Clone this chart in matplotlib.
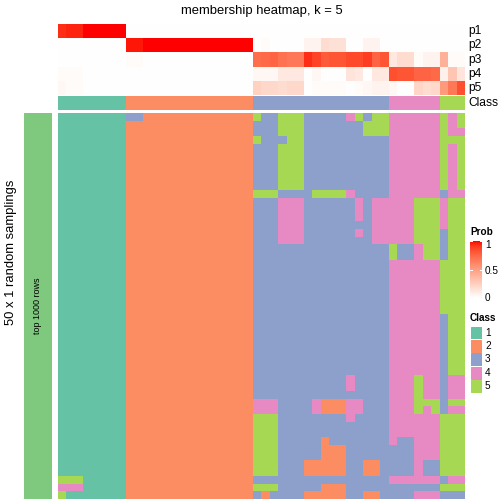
import numpy as np
import matplotlib
matplotlib.use("Agg")
import matplotlib.pyplot as plt
from matplotlib.colors import ListedColormap

plt.rcParams["font.family"] = ["Liberation Sans", "DejaVu Sans"]

W = H = 504

# -- Data ----------------------------------------------------------------------
TITLE = "membership heatmap, k = 5"
CLASS_LABELS = ["1", "2", "3", "4", "5"]
CLASS_COLORS = ["#66C2A5", "#FC8D62", "#8DA0CB", "#E78AC3", "#A6D854"]
PROB_LABELS = ["p1", "p2", "p3", "p4", "p5"]
PROB_TICKS = [0, 0.5, 1]

# consensus class of each of the 48 samples (columns)
consensus = [1] * 8 + [2] * 15 + [3] * 16 + [4] * 6 + [5] * 3

# class assigned in each of the 50 random samplings (rows)
# segments: class-1 block (8) | class-2 block (15) | class-3 (16) | class-4 (6) | class-5 (3)
G1 = "11111111"
G2 = "222222222222222"
samplings = [
    G1 + "332222222222222" + "5335553333345355" + "444444" + "545",
    G1 + G2 + "3335553333333555" + "444444" + "545",
    G1 + G2 + "3335553333333555" + "444444" + "544",
    G1 + G2 + "5333553333333333" + "444444" + "555",
    G1 + G2 + "3335553333333333" + "444444" + "545",
    G1 + G2 + "3335553333333333" + "444444" + "545",
    G1 + G2 + "3335553333333333" + "444444" + "545",
    G1 + G2 + "3335553333333333" + "444444" + "545",
    G1 + G2 + "3335553333333333" + "444444" + "545",
    G1 + G2 + "3335553333333333" + "444444" + "545",
    G1 + G2 + "5553333555543333" + "444444" + "344",
    G1 + G2 + "3334443333334344" + "444555" + "455",
    G1 + G2 + "3334443333334344" + "444555" + "455",
    G1 + G2 + "3334443333334344" + "444555" + "455",
    G1 + G2 + "3334443333333344" + "444555" + "455",
    G1 + G2 + "3334443333334344" + "444555" + "355",
    G1 + G2 + "3334443333333344" + "444555" + "355",
    G1 + G2 + "3333333333333333" + "533455" + "355",
    G1 + G2 + "3333333333333333" + "533455" + "355",
    G1 + G2 + "3333333333333333" + "444444" + "555",
    G1 + G2 + "3333333333333333" + "444444" + "555",
    G1 + G2 + "3333333333333333" + "444444" + "555",
    G1 + G2 + "3333333333333333" + "444444" + "555",
    G1 + G2 + "3333333333333333" + "444444" + "555",
    G1 + G2 + "3333333333333333" + "444444" + "555",
    G1 + G2 + "3333333333333333" + "444444" + "555",
    G1 + G2 + "3333333333333333" + "444444" + "355",
    G1 + G2 + "3333333333333333" + "444444" + "355",
    G1 + G2 + "3333333333333333" + "444444" + "355",
    G1 + G2 + "3333333333333333" + "444444" + "355",
    G1 + G2 + "3333333333333333" + "444444" + "355",
    G1 + G2 + "3333333333333333" + "444444" + "355",
    G1 + G2 + "3333333333333333" + "444444" + "355",
    G1 + G2 + "3333333333333333" + "444444" + "355",
    G1 + G2 + "3333333333343333" + "444544" + "344",
    G1 + G2 + "3333333333343333" + "444544" + "344",
    G1 + G2 + "3333333333333333" + "444544" + "344",
    G1 + G2 + "4443333422244333" + "444555" + "355",
    G1 + G2 + "4443333422244333" + "444545" + "344",
    G1 + G2 + "5553333333343333" + "444444" + "555",
    G1 + G2 + "5553333333333333" + "444444" + "555",
    G1 + G2 + "5553333333333333" + "444444" + "555",
    G1 + G2 + "5553333323333333" + "433444" + "555",
    G1 + G2 + "5553333322233333" + "333444" + "555",
    G1 + G2 + "5553333322233333" + "333444" + "555",
    G1 + G2 + "5553332222233223" + "333433" + "555",
    G1 + G2 + "5553332222233223" + "333433" + "555",
    "55511111" + G2 + "3333333333333333" + "444444" + "344",
    "44411111" + G2 + "5553333322233333" + "333333" + "555",
    "51111111" + G2 + "3233332222233223" + "333444" + "333",
]

mat = np.array([[int(c) for c in row] for row in samplings])
# membership = share of samplings that put each sample in class k
membership = np.array([(mat == k).mean(axis=0) for k in range(1, 6)])


# -- white -> red ramp interpolated in Lab (as colorRamp2 does) -----------------
M = np.array([[0.4124, 0.3576, 0.1805],
              [0.2126, 0.7152, 0.0722],
              [0.0193, 0.1192, 0.9505]])
WHITE = np.array([0.95047, 1.0, 1.08883])


def to_lab(rgb):
    rgb = np.asarray(rgb, float)
    lin = np.where(rgb <= 0.04045, rgb / 12.92, ((rgb + 0.055) / 1.055) ** 2.4)
    xyz = M @ lin / WHITE
    f = np.where(xyz > (6 / 29) ** 3, np.cbrt(xyz), xyz / (3 * (6 / 29) ** 2) + 4 / 29)
    return np.array([116 * f[1] - 16, 500 * (f[0] - f[1]), 200 * (f[1] - f[2])])


def from_lab(lab):
    fy = (lab[:, 0] + 16) / 116
    f = np.stack([fy + lab[:, 1] / 500, fy, fy - lab[:, 2] / 200], axis=1)
    xyz = np.where(f > 6 / 29, f ** 3, 3 * (6 / 29) ** 2 * (f - 4 / 29)) * WHITE
    lin = np.clip(xyz @ np.linalg.inv(M).T, 0, 1)
    return np.where(lin <= 0.0031308, 12.92 * lin, 1.055 * lin ** (1 / 2.4) - 0.055)


t = np.linspace(0, 1, 256)[:, None]
lab0, lab1 = to_lab([1, 1, 1]), to_lab([1, 0, 0])
prob_cmap = ListedColormap(np.clip(from_lab(lab0 * (1 - t) + lab1 * t), 0, 1))
class_cmap = ListedColormap(CLASS_COLORS)

# -- Figure --------------------------------------------------------------------
fig = plt.figure(figsize=(7, 7), dpi=72)


def px_axes(x0, y0, x1, y1):
    ax = fig.add_axes([x0 / W, 1 - y1 / H, (x1 - x0) / W, (y1 - y0) / H])
    ax.set_axis_off()
    return ax


def fx(x):
    return x / W


def fy(y):
    return 1 - y / H


HX0, HX1 = 58, 465

# membership rows
ax = px_axes(HX0, 24, HX1, 95)
ax.imshow(membership, cmap=prob_cmap, vmin=0, vmax=1, aspect="auto", interpolation="nearest")
row_h = (95 - 24) / 5
for i, lab in enumerate(PROB_LABELS):
    fig.text(fx(468), fy(24 + row_h * (i + 0.5)), lab, fontsize=12, ha="left", va="center")

# consensus class row
ax = px_axes(HX0, 95.7, HX1, 110)
ax.imshow(np.array([consensus]), cmap=class_cmap, vmin=0.5, vmax=5.5, aspect="auto",
          interpolation="nearest")
fig.text(fx(468), fy(103), "Class", fontsize=12, ha="left", va="center")

# main heatmap of samplings
ax = px_axes(HX0, 113.3, HX1, 499)
ax.imshow(mat, cmap=class_cmap, vmin=0.5, vmax=5.5, aspect="auto", interpolation="nearest")

# left annotation bar
ax = px_axes(24, 113.3, 52, 499)
ax.add_patch(plt.Rectangle((0, 0), 1, 1, color="#7FC97F"))
ax.set_xlim(0, 1)
ax.set_ylim(0, 1)
fig.text(fx(38), fy(306), "top 1000 rows", fontsize=9, rotation=90, ha="center", va="center")
fig.text(fx(11), fy(252), "50 x 1 random samplings", fontsize=13, rotation=90,
         ha="center", va="center")

fig.text(fx((HX0 + HX1) / 2), fy(11), TITLE, fontsize=13, ha="center", va="center")

# legend: Prob
LX = 470
fig.text(fx(LX), fy(232), "Prob", fontsize=10, fontweight="bold", ha="left", va="center")
CB0, CB1 = 241, 298
ax = px_axes(LX, CB0, LX + 12, CB1)
ax.imshow(np.linspace(1, 0, 100)[:, None], cmap=prob_cmap, vmin=0, vmax=1, aspect="auto",
          extent=(0, 1, 0, 1))
ax.set_xlim(0, 1)
ax.set_ylim(0, 1)
tick_y = {0: 298, 0.5: 271, 1: 245}
for v in PROB_TICKS:
    ax.plot([0, 0.2], [v, v], color="white", lw=1)
    ax.plot([0.8, 1], [v, v], color="white", lw=1)
    fig.text(fx(LX + 15), fy(tick_y[v]), f"{v:g}", fontsize=10, ha="left", va="center")

# legend: Class
fig.text(fx(LX), fy(318), "Class", fontsize=10, fontweight="bold", ha="left", va="center")
box_h = 13.4
for i, (lab, col) in enumerate(zip(CLASS_LABELS, CLASS_COLORS)):
    y0 = 326 + box_h * i
    ax = px_axes(LX, y0, LX + 12, y0 + box_h)
    ax.add_patch(plt.Rectangle((0.05, 0.05), 0.9, 0.9, color=col))
    ax.set_xlim(0, 1)
    ax.set_ylim(0, 1)
    fig.text(fx(LX + 15), fy(y0 + box_h / 2), lab, fontsize=10, ha="left", va="center")

fig.savefig("out.png", dpi=72)
